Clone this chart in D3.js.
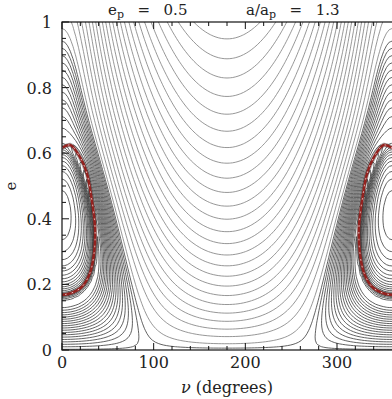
<!DOCTYPE html>
<html><head><meta charset="utf-8">
<script src="https://cdn.jsdelivr.net/npm/d3@7"></script>
<style>body{margin:0;background:#fff} svg{display:block} text{font-family:"DejaVu Serif",serif;fill:#222}</style>
</head><body>
<svg id="c" width="392" height="399"></svg>
<script>
// model parameters shown in the title
const planetEcc = [0.5];
const semiMajorRatio = [1.3];
// contour levels: coarse step below the circular-orbit value, finer step above it
const levelBase = [0.459];
const levelStep = [0.0223];
const levelSplit = [1.0];
const levelFineStep = [0.0085];
// axis ticks
const nuTicks = [0, 100, 200, 300];
const nuMinorTicks = [20, 40, 60, 80, 120, 140, 160, 180, 220, 240, 260, 280, 320, 340];
const eTicks = [0, 0.2, 0.4, 0.6, 0.8, 1];
const eTickLabels = ["0", "0.2", "0.4", "0.6", "0.8", "1"];
const eMinorTicks = [0.05, 0.1, 0.15, 0.25, 0.3, 0.35, 0.45, 0.5, 0.55, 0.65, 0.7, 0.75, 0.85, 0.9, 0.95];
// red trajectory (nu in degrees, e), left island; mirrored at 360
const redNu = [0, 9, 19.6, 27, 32, 36, 35, 30.5, 21.5, 10.5, 0];
const redE = [0.616, 0.625, 0.588, 0.54, 0.467, 0.375, 0.295, 0.235, 0.192, 0.174, 0.168];

const M = {left: 62, right: 392, top: 22, bottom: 350};
const x = d3.scaleLinear().domain([0, 360]).range([M.left, M.right]);
const y = d3.scaleLinear().domain([0, 1]).range([M.bottom, M.top]);

// ---- doubly averaged interaction with the eccentric planet ----
const ep = planetEcc[0], a = semiMajorRatio[0];
const NP = 64, NQ = 240, soft2 = 0.015 * 0.015;
const px = new Float64Array(NP + 1), py = new Float64Array(NP + 1);
for (let j = 0; j <= NP; j++) {
  const E = 2 * Math.PI * j / NP;
  px[j] = Math.cos(E) - ep; py[j] = Math.sqrt(1 - ep * ep) * Math.sin(E);
}
const L = new Float64Array(NP), coef = new Float64Array(NP);
for (let j = 0; j < NP; j++) {
  const E0 = 2 * Math.PI * j / NP, E1 = 2 * Math.PI * (j + 1) / NP;
  L[j] = Math.hypot(px[j + 1] - px[j], py[j + 1] - py[j]);
  const m = ((1 - ep * Math.cos(E0)) + (1 - ep * Math.cos(E1))) / 2 / NP;
  coef[j] = m / L[j];
}
const cq = new Float64Array(NQ), sq = new Float64Array(NQ);
for (let k = 0; k < NQ; k++) { const E = 2 * Math.PI * (k + 0.5) / NQ; cq[k] = Math.cos(E); sq[k] = Math.sin(E); }
const r = new Float64Array(NP + 1);
function field(nuDeg, e) {
  const nu = nuDeg * Math.PI / 180, c = Math.cos(nu), s = Math.sin(nu);
  const b = a * Math.sqrt(Math.max(0, 1 - e * e));
  let sum = 0;
  for (let k = 0; k < NQ; k++) {
    const xl = a * (cq[k] - e), yl = b * sq[k];
    const X = xl * c - yl * s, Y = xl * s + yl * c;
    const w = (1 - e * cq[k]) / NQ;
    for (let j = 0; j <= NP; j++) { const dx = X - px[j], dy = Y - py[j]; r[j] = Math.sqrt(dx * dx + dy * dy + soft2); }
    let phi = 0;
    for (let j = 0; j < NP; j++) { const t = r[j] + r[j + 1]; phi += coef[j] * Math.log((t + L[j]) / (t - L[j])); }
    sum += w * phi;
  }
  return sum;
}
const dNu = 3, dE = 0.01, nNu = 61, nE = 101;
const base = new Float64Array(nNu * nE);
for (let i = 0; i < nNu; i++) for (let j = 0; j < nE; j++) base[j * nNu + i] = field(i * dNu, j * dE);
function lookup(nu, e) {
  if (e < 0) { e = -e; nu += 180; }
  nu = ((nu % 360) + 360) % 360; if (nu > 180) nu = 360 - nu;
  return base[Math.round(e / dE) * nNu + Math.round(nu / dNu)];
}
const nu0 = -6, e0 = -0.03, gx = 125, gy = 104;
const grid = new Float64Array(gx * gy);
for (let j = 0; j < gy; j++) for (let i = 0; i < gx; i++) grid[j * gx + i] = lookup(nu0 + i * dNu, e0 + j * dE);
const fMax = d3.max(base);
const thresholds = [];
for (let v = levelBase[0]; v < levelSplit[0]; v += levelStep[0]) thresholds.push(v);
for (let v = levelSplit[0] + levelFineStep[0]; v < fMax; v += levelFineStep[0]) thresholds.push(v);
const contours = d3.contours().size([gx, gy]).thresholds(thresholds)(grid);
const proj = d3.geoTransform({point: function(cx, cy) {
  this.stream.point(x(nu0 + (cx - 0.5) * dNu), y(e0 + (cy - 0.5) * dE));
}});
const path = d3.geoPath(proj);

const svg = d3.select("#c");
svg.append("clipPath").attr("id", "clip").append("rect")
  .attr("x", M.left).attr("y", M.top).attr("width", M.right - M.left).attr("height", M.bottom - M.top);
const plot = svg.append("g").attr("clip-path", "url(#clip)");
plot.selectAll("path.ct").data(contours).join("path").attr("class", "ct")
  .attr("d", path).attr("fill", "none")
  .attr("stroke", d => d.value > levelSplit[0] ? "#3a3a3a" : "#747474")
  .attr("stroke-width", d => d.value > levelSplit[0] ? 0.8 : 0.75);

// red trajectory
const redPts = redNu.map((n, i) => [n, redE[i]]);
const redLine = d3.line().x(d => x(d[0])).y(d => y(d[1])).curve(d3.curveCatmullRom);
[redPts, redPts.map(d => [360 - d[0], d[1]])].forEach(pts => {
  plot.append("path").attr("d", redLine(pts)).attr("fill", "none")
    .attr("stroke", "#1a1a1a").attr("stroke-width", 4.5).attr("stroke-opacity", 0.35);
  plot.append("path").attr("d", redLine(pts)).attr("fill", "none")
    .attr("stroke", "#93221f").attr("stroke-width", 2.6);
  plot.append("path").attr("d", redLine(pts)).attr("fill", "none")
    .attr("stroke", "#f4dede").attr("stroke-width", 0.9)
    .attr("stroke-dasharray", "0.8,6").attr("stroke-linecap", "round");
});

// frame
svg.append("rect").attr("x", M.left).attr("y", M.top).attr("width", M.right - M.left + 2)
  .attr("height", M.bottom - M.top).attr("fill", "none").attr("stroke", "#111").attr("stroke-width", 1.2);

// ticks (inward)
const tk = svg.append("g").attr("stroke", "#111").attr("stroke-width", 1);
nuTicks.concat(nuMinorTicks).forEach(v => {
  const len = nuTicks.includes(v) ? 7 : 4;
  tk.append("line").attr("x1", x(v)).attr("x2", x(v)).attr("y1", M.bottom).attr("y2", M.bottom - len);
  tk.append("line").attr("x1", x(v)).attr("x2", x(v)).attr("y1", M.top).attr("y2", M.top + len);
});
eTicks.concat(eMinorTicks).forEach(v => {
  const len = eTicks.includes(v) ? 7 : 4;
  tk.append("line").attr("x1", M.left).attr("x2", M.left + len).attr("y1", y(v)).attr("y2", y(v));
});

// tick labels
svg.append("g").selectAll("text").data(nuTicks).join("text")
  .attr("x", d => x(d)).attr("y", 368).attr("text-anchor", "middle").attr("font-size", 16).text(d => d);
svg.append("g").selectAll("text").data(eTicks).join("text")
  .attr("x", 52).attr("y", d => y(d) + 6).attr("text-anchor", "end").attr("font-size", 16)
  .text((d, i) => eTickLabels[i]);

// axis titles
const xt = svg.append("text").attr("x", 227).attr("y", 393).attr("text-anchor", "middle").attr("font-size", 16);
xt.append("tspan").attr("font-style", "italic").text("\u03bd");
xt.append("tspan").text(" (degrees)");
svg.append("text").attr("transform", "translate(16,186) rotate(-90)").attr("text-anchor", "middle")
  .attr("font-size", 15).text("e");

// title
const t1 = svg.append("text").attr("x", 108).attr("y", 15).attr("font-size", 15)
  .attr("xml:space", "preserve").attr("word-spacing", 2);
t1.append("tspan").text("e");
t1.append("tspan").attr("font-size", 11).attr("dy", 3).text("p");
t1.append("tspan").attr("dy", -3).text("  =  " + planetEcc[0]);
const t2 = svg.append("text").attr("x", 246).attr("y", 15).attr("font-size", 15)
  .attr("xml:space", "preserve").attr("word-spacing", 2);
t2.append("tspan").text("a/a");
t2.append("tspan").attr("font-size", 11).attr("dy", 3).text("p");
t2.append("tspan").attr("dy", -3).text("  =  " + semiMajorRatio[0]);
</script></body></html>
